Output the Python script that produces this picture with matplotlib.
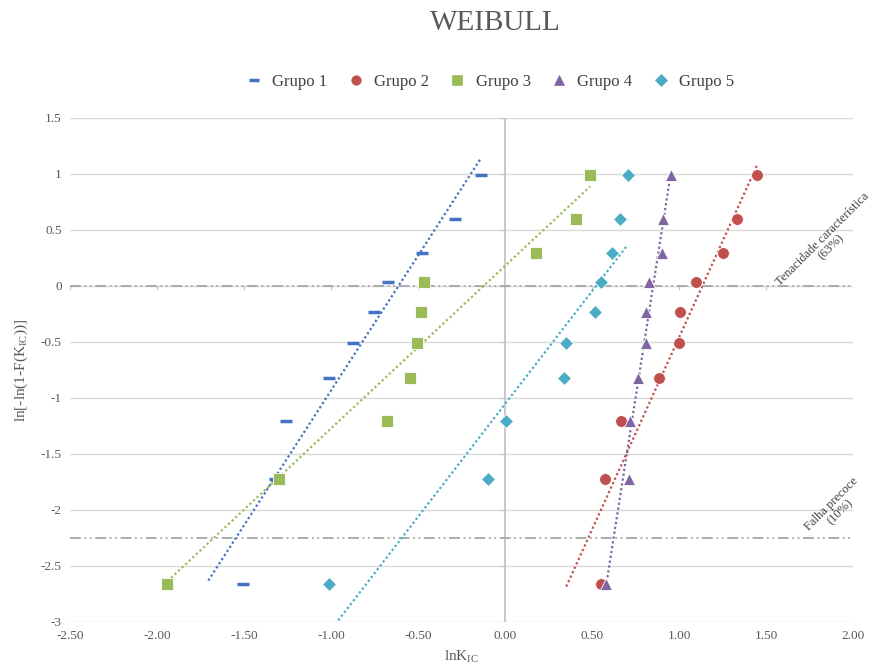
import numpy as np
import matplotlib
matplotlib.use("Agg")
import matplotlib.pyplot as plt
from matplotlib.lines import Line2D

plt.rcParams['font.family'] = ['Liberation Serif', 'DejaVu Serif']
plt.rcParams['mathtext.fontset'] = 'custom'
plt.rcParams['mathtext.rm'] = 'Liberation Serif'
plt.rcParams['mathtext.it'] = 'Liberation Serif'

# ---- data ----
y_rank = [-2.664, -1.723, -1.202, -0.822, -0.509, -0.231, 0.033, 0.299, 0.594, 0.993]
grupo1 = [-1.505, -1.32, -1.259, -1.01, -0.874, -0.753, -0.672, -0.477, -0.287, -0.14]
grupo2 = [0.552, 0.575, 0.667, 0.885, 0.999, 1.006, 1.098, 1.253, 1.333, 1.448]
grupo3 = [-1.94, -1.30, -0.678, -0.546, -0.506, -0.483, -0.466, 0.18, 0.41, 0.489]
grupo4 = [0.58, 0.71, 0.718, 0.764, 0.81, 0.81, 0.828, 0.90, 0.91, 0.954]
grupo5 = [-1.01, -0.10, 0.005, 0.339, 0.35, 0.517, 0.553, 0.616, 0.66, 0.705]
labels = ["Grupo 1", "Grupo 2", "Grupo 3", "Grupo 4", "Grupo 5"]
ref_levels = [0.0, -2.2504]
ref_labels = ["Tenacidade característica\n(63%)", "Falha precoce\n(10%)"]
x_ticks = [-2.5, -2.0, -1.5, -1.0, -0.5, 0.0, 0.5, 1.0, 1.5, 2.0]
y_ticks = [-3, -2.5, -2, -1.5, -1, -0.5, 0, 0.5, 1, 1.5]

# ---- style ----
colors = ["#4472C4", "#C0504D", "#9BBB59", "#8064A2", "#4BACC6"]
markers = ["_", "o", "s", "^", "D"]
msizes = [9, 8.5, 8.5, 9, 7.5]
mews = [2.5, 0.6, 0.6, 0.6, 0.6]
back_ext = [0.2, 0.2, 0.0, 0.0, 0.0]
grey_txt = "#595959"

fig = plt.figure(figsize=(8.83, 6.68), dpi=100)
ax = fig.add_axes([70/883, 1-622/668, 783/883, 504/668])
ax.set_xlim(-2.5, 2.0)
ax.set_ylim(-3, 1.5)

for s in ax.spines.values():
    s.set_visible(False)
for yt in y_ticks:
    ax.axhline(yt, color="#D9D9D9", lw=1.0, zorder=0)
ax.axvline(0, color="#BFBFBF", lw=1.2, zorder=0)
# small tick marks on the crossing axes
for xt in x_ticks:
    ax.plot([xt, xt], [0, -0.03], color="#BFBFBF", lw=0.8, zorder=0)
for yt in y_ticks:
    ax.plot([0, -0.03], [yt, yt], color="#BFBFBF", lw=0.8, zorder=0)

# reference lines
for lvl in ref_levels:
    ax.plot([-2.5, 2.0], [lvl, lvl], color="#A6A6A6", lw=1.3,
            linestyle=(0, (6, 2, 1, 2, 1, 2)), zorder=1)

groups = [grupo1, grupo2, grupo3, grupo4, grupo5]
handles = []
for i, xs in enumerate(groups):
    xs = np.array(xs)
    ys = np.array(y_rank)
    c = colors[i]
    ax.plot(xs, ys, linestyle="none", marker=markers[i], ms=msizes[i],
            mfc=c, mec=c if i == 0 else "#FFFFFF", mew=mews[i], zorder=3 + i)
    k, b = np.polyfit(xs, ys, 1)
    xl = np.array([xs.min() - back_ext[i], xs.max()])
    ax.plot(xl, k * xl + b, color=c, lw=1.6, linestyle=(0, (1, 1.2)), zorder=2)
    handles.append(Line2D([], [], linestyle="none", marker=markers[i],
                          ms=msizes[i] * 0.8, mfc=c, mec=c,
                          mew=mews[i] if i == 0 else 0.5))

ax.set_xticks(x_ticks)
ax.set_xticklabels([f"{v:.2f}" for v in x_ticks])
ax.set_yticks(y_ticks)
ax.set_yticklabels([f"{v:g}" for v in y_ticks])
ax.tick_params(length=0, labelsize=9.5, labelcolor=grey_txt, pad=6)

ax.set_xlabel(r"lnK$_{\mathregular{IC}}$", fontsize=11, color=grey_txt, labelpad=5)
ax.set_ylabel(r"ln[-ln(1-F(K$_{\mathregular{IC}}$))]", fontsize=11, color=grey_txt, labelpad=8)

fig.text(495/883, 1-23/668, "WEIBULL", ha="center", va="center",
         fontsize=21, color=grey_txt)

fig.legend(handles, labels, loc="center", bbox_to_anchor=(489/883, 1-82/668),
           ncol=5, frameon=False, fontsize=12, handletextpad=0.5,
           columnspacing=1.1, labelcolor="#404040", handlelength=1.2)

fig.text(827/883, 1-243/668, ref_labels[0], rotation=45, ha="center", va="center",
         fontsize=9, color="#404040", linespacing=1.0, rotation_mode="anchor")
fig.text(836/883, 1-508/668, ref_labels[1], rotation=45, ha="center", va="center",
         fontsize=9, color="#404040", linespacing=1.0, rotation_mode="anchor")

fig.savefig("out.png", dpi=100, facecolor="white")
